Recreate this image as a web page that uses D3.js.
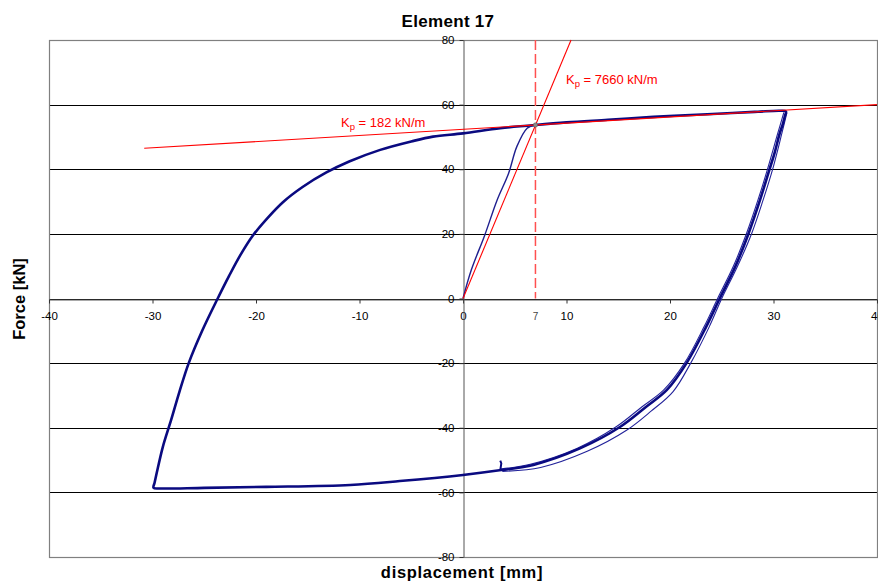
<!DOCTYPE html>
<html>
<head>
<meta charset="utf-8">
<script src="https://cdn.jsdelivr.net/npm/d3@7"></script>
<style>
    body { margin: 0; background: #fff; }
    text { font-family: "Liberation Sans", Arial, sans-serif; }
</style>
</head>
<body>
<svg id="chart" width="878" height="581"></svg>
<script>
// tick values
var xTicks = [-40, -30, -20, -10, 0, 10, 20, 30, 40];
var yTicks = [-80, -60, -40, -20, 0, 20, 40, 60, 80];

// first loading branch [displacement mm, force kN]
var initLoad = [[0, 0], [0.8, 8.8], [2.1, 19.6], [3.3, 30.5], [4.4, 38.7], [5.2, 47.0], [6.2, 52.7], [7.0, 53.7]];

// main hysteresis loop
var mainLoop = [
    [7.0, 53.7], [10, 54.5], [14, 55.3], [18.4, 56.2], [22, 56.8], [26, 57.4], [28.5, 57.8], [30.6, 58.1], [31.2, 57.9],
    [31.1, 56.5], [30.9, 54.0], [30.6, 51.1], [30.1, 45.0], [29.6, 39.8], [28.7, 30.5], [27.6, 20.2], [26.3, 9.8], [24.8, 0],
    [23.5, -8.7], [21.6, -20], [19.7, -28.3], [17.7, -33.5], [15.2, -39.7], [11.3, -46.4], [6.8, -51.5], [3.7, -53.1],
    [0, -54.6], [-6.1, -56.5], [-10.9, -57.7], [-19, -58.3], [-25, -58.6], [-29.3, -58.8], [-29.9, -58.6],
    [-29.8, -57.0], [-29.6, -54.1], [-29.0, -45.9], [-28.2, -37.6], [-27.4, -28.9], [-26.5, -20], [-25.2, -10],
    [-23.7, 0], [-22.6, 7.0], [-21.5, 13.5], [-20.3, 19.5], [-19.0, 24.5], [-17.4, 29.8], [-15.5, 34.5], [-13.2, 39.0],
    [-11.0, 42.4], [-8, 46.0], [-5, 48.6], [-2.9, 50.1], [0, 51.1], [3.6, 52.7], [7.0, 53.7]
];

// repeated unloading cycles
var cycle2 = [[31.0, 57.6], [30.4, 51], [29.4, 39.8], [28.5, 30.5], [27.4, 20.2], [26.1, 9.8], [24.6, 0], [23.3, -8.7],
    [21.4, -20], [19.4, -28.3], [17.3, -33.5], [14.8, -39.7], [11.0, -46.4], [6.5, -51.3], [3.6, -52.8]];
var cycle3 = [[31.3, 57.5], [30.8, 51], [29.9, 39.8], [29.0, 30.5], [27.9, 20.2], [26.5, 9.8], [25.0, 0], [23.8, -8.7],
    [22.0, -20], [20.3, -28.8], [18.2, -34.8], [15.8, -40.8], [12.0, -47.3], [7.5, -52.3], [3.8, -53.5]];
var tail = [[3.6, -53.2], [3.7, -51.0], [3.6, -50.2]];

// stiffness lines
var kpSecant = [[0, 0], [10.44, 80]];
var kpPlastic = [[-30.8, 46.5], [40, 60]];
var yieldDisp = 7;
var yieldForce = 53.7;

var svg = d3.select("#chart");

var plotLeft = 49, plotRight = 877, plotTop = 40, plotBottom = 557;

var x = d3.scaleLinear().domain([-40, 40]).range([plotLeft, plotRight]);
var y = d3.scaleLinear().domain([-80, 80]).range([plotBottom, plotTop]);

function crisp(v) {
    return Math.round(v) + 0.5;
}

// gridlines
svg.append("g")
    .selectAll("line")
    .data(yTicks)
    .enter().append("line")
    .attr("x1", plotLeft).attr("x2", plotRight)
    .attr("y1", function (d) { return crisp(y(d)); })
    .attr("y2", function (d) { return crisp(y(d)); })
    .attr("stroke", "#000")
    .attr("stroke-width", 1);

// plot border
svg.append("rect")
    .attr("x", plotLeft + 0.5).attr("y", plotTop + 0.5)
    .attr("width", plotRight - plotLeft).attr("height", plotBottom - plotTop)
    .attr("fill", "none")
    .attr("stroke", "#808080")
    .attr("stroke-width", 1.2);

// x axis through force = 0
var xAxis = svg.append("g")
    .attr("transform", "translate(0," + crisp(y(0)) + ")")
    .call(d3.axisBottom(x).tickValues(xTicks).tickSize(4).tickPadding(8).tickSizeOuter(0).tickFormat(function (d) { return String(d); }));

// y axis through displacement = 0
var yAxis = svg.append("g")
    .attr("transform", "translate(" + crisp(x(0)) + ",0)")
    .call(d3.axisLeft(y).tickValues(yTicks).tickSize(4).tickPadding(5).tickSizeOuter(0).tickFormat(function (d) { return String(d); }));

[xAxis, yAxis].forEach(function (a) {
    a.select(".domain").attr("stroke", "#555");
    a.selectAll(".tick line").attr("stroke", "#333");
    a.selectAll("text").attr("font-size", "11.5px").attr("fill", "#000")
        .style("font-family", "'Liberation Sans', Arial, sans-serif");
});

// yield displacement label
svg.append("text")
    .attr("x", x(yieldDisp))
    .attr("y", crisp(y(0)) + 20)
    .attr("text-anchor", "middle")
    .attr("font-size", "10px")
    .attr("fill", "#444")
    .text("7");

var line = d3.line()
    .curve(d3.curveCatmullRom.alpha(0.5))
    .x(function (d) { return x(d[0]); })
    .y(function (d) { return y(d[1]); });

var straight = d3.line()
    .x(function (d) { return x(d[0]); })
    .y(function (d) { return y(d[1]); });

// dashed yield line
svg.append("line")
    .attr("x1", x(yieldDisp)).attr("x2", x(yieldDisp))
    .attr("y1", plotTop).attr("y2", y(0))
    .attr("stroke", "#ff5050")
    .attr("stroke-width", 1.5)
    .attr("stroke-dasharray", "10,4");

// hysteresis curves
var blue = "#0a0a80";
[cycle2, cycle3].forEach(function (c) {
    svg.append("path")
        .attr("d", line(c))
        .attr("fill", "none")
        .attr("stroke", "#22229a")
        .attr("stroke-width", 1.1);
});

svg.append("path")
    .attr("d", line(mainLoop))
    .attr("fill", "none")
    .attr("stroke", blue)
    .attr("stroke-width", 2.6)
    .attr("stroke-linejoin", "round");

svg.append("path")
    .attr("d", line(initLoad))
    .attr("fill", "none")
    .attr("stroke", "#1f1f8f")
    .attr("stroke-width", 1.4);

svg.append("path")
    .attr("d", straight(tail))
    .attr("fill", "none")
    .attr("stroke", blue)
    .attr("stroke-width", 2);

// stiffness lines
[kpSecant, kpPlastic].forEach(function (k) {
    svg.append("path")
        .attr("d", straight(k))
        .attr("fill", "none")
        .attr("stroke", "#ff0000")
        .attr("stroke-width", 1.1);
});

svg.append("circle")
    .attr("cx", x(yieldDisp)).attr("cy", y(yieldForce))
    .attr("r", 2.2)
    .attr("fill", "#888")
    .attr("stroke", "#555")
    .attr("stroke-width", 0.5);

// Kp labels
function kpLabel(px, py, value) {
    var t = svg.append("text")
        .attr("x", px).attr("y", py)
        .attr("font-size", "13px")
        .attr("fill", "#ff0000");
    t.append("tspan").text("K");
    t.append("tspan").attr("font-size", "9.5px").attr("dy", 3).text("p");
    t.append("tspan").attr("dy", -3).text(" = " + value + " kN/m");
}
kpLabel(341, 127, "182");
kpLabel(566, 84, "7660");

// title and axis titles
svg.append("text")
    .attr("x", 448).attr("y", 27)
    .attr("text-anchor", "middle")
    .attr("font-size", "17px")
    .attr("font-weight", "bold")
    .attr("letter-spacing", "0.3px")
    .text("Element 17");

svg.append("text")
    .attr("transform", "translate(25,299) rotate(-90)")
    .attr("text-anchor", "middle")
    .attr("font-size", "16.5px")
    .attr("font-weight", "bold")
    .text("Force [kN]");

svg.append("text")
    .attr("x", 462).attr("y", 578)
    .attr("text-anchor", "middle")
    .attr("font-size", "16.5px")
    .attr("font-weight", "bold")
    .attr("letter-spacing", "0.7px")
    .text("displacement [mm]");
</script>
</body>
</html>
